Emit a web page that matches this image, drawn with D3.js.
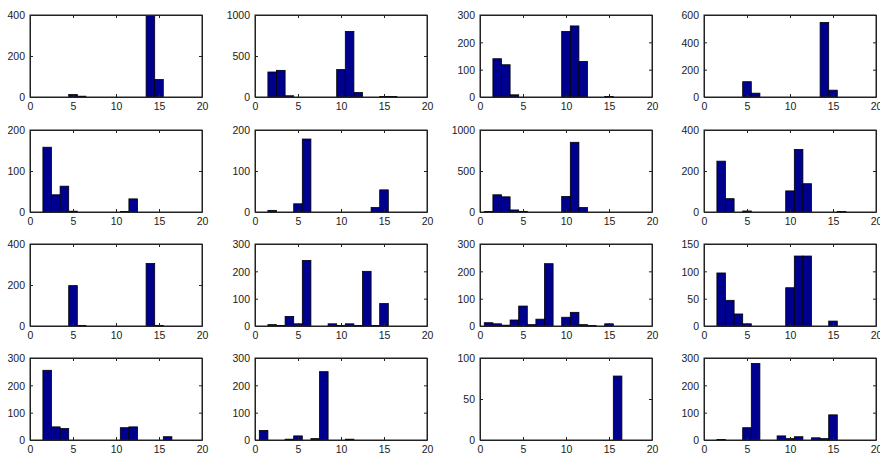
<!DOCTYPE html>
<html>
<head>
<meta charset="utf-8">
<script src="https://cdn.jsdelivr.net/npm/d3@7"></script>
<style>
  body { margin: 0; background: #fff; }
  svg { display: block; }
  .tick text { font-family: "Liberation Sans", Arial, sans-serif; font-size: 10.5px; fill: #1a1a1a; }
</style>
</head>
<body>
<div class="graph"></div>
<script>
// bin centres shared by every histogram
const bins = [1, 2, 3, 4, 5, 6, 7, 8, 9, 10, 11, 12, 13, 14, 15, 16];

// counts per bin, one array per panel (row by row)
const p11 = [0, 0, 0, 0, 12, 4, 0, 0, 0, 0, 0, 0, 0, 400, 85, 0];
const p12 = [0, 305, 325, 15, 0, 0, 0, 0, 0, 335, 800, 55, 0, 0, 5, 5];
const p13 = [0, 140, 118, 8, 0, 0, 0, 0, 0, 240, 260, 130, 0, 0, 2, 0];
const p14 = [0, 0, 0, 0, 112, 28, 0, 0, 0, 0, 0, 0, 0, 545, 50, 0];
const p21 = [0, 158, 42, 63, 2, 0, 0, 0, 0, 0, 1, 32, 0, 0, 0, 0];
const p22 = [0, 4, 0, 0, 20, 178, 0, 0, 0, 0, 0, 0, 0, 11, 54, 0];
const p23 = [5, 210, 185, 25, 8, 0, 0, 0, 0, 190, 850, 55, 0, 0, 0, 0];
const p24 = [0, 248, 65, 0, 5, 0, 0, 0, 0, 103, 305, 138, 0, 0, 0, 3];
const p31 = [0, 0, 0, 0, 197, 3, 0, 0, 0, 0, 0, 0, 0, 305, 3, 0];
const p32 = [0, 5, 2, 35, 8, 240, 0, 0, 8, 2, 8, 2, 200, 2, 82, 0];
const p33 = [12, 8, 3, 22, 73, 5, 25, 228, 0, 32, 50, 5, 2, 0, 8, 0];
const p34 = [0, 97, 47, 22, 4, 0, 0, 0, 0, 70, 128, 128, 0, 0, 9, 0];
const p41 = [0, 255, 48, 42, 0, 0, 0, 0, 0, 0, 45, 48, 0, 0, 0, 12];
const p42 = [35, 0, 0, 3, 15, 0, 5, 250, 0, 0, 3, 0, 0, 0, 0, 0];
const p43 = [0, 0, 0, 0, 0, 0, 0, 0, 0, 0, 0, 0, 0, 0, 0, 78];
const p44 = [0, 2, 0, 0, 45, 280, 0, 0, 15, 5, 12, 0, 8, 5, 92, 0];

// y tick values per panel
const yt11 = [0, 200, 400], yt12 = [0, 500, 1000], yt13 = [0, 100, 200, 300], yt14 = [0, 200, 400, 600];
const yt21 = [0, 100, 200], yt22 = [0, 100, 200], yt23 = [0, 500, 1000], yt24 = [0, 200, 400];
const yt31 = [0, 200, 400], yt32 = [0, 100, 200, 300], yt33 = [0, 100, 200, 300], yt34 = [0, 50, 100, 150];
const yt41 = [0, 100, 200, 300], yt42 = [0, 100, 200, 300], yt43 = [0, 50, 100], yt44 = [0, 100, 200, 300];

const xTicks = [0, 5, 10, 15, 20];

const panels = [
  [p11, yt11], [p12, yt12], [p13, yt13], [p14, yt14],
  [p21, yt21], [p22, yt22], [p23, yt23], [p24, yt24],
  [p31, yt31], [p32, yt32], [p33, yt33], [p34, yt34],
  [p41, yt41], [p42, yt42], [p43, yt43], [p44, yt44]
];

var colX = [30, 255, 480, 704],
    rowY = [15, 130, 244, 358],
    w = 172, h = 82;

var svg = d3.select(".graph")
  .append("svg")
    .attr("width", 880)
    .attr("height", 454);

panels.forEach(function(p, k) {
  var counts = p[0], yticks = p[1];
  var g = svg.append("g")
    .attr("transform", "translate(" + colX[k % 4] + "," + rowY[Math.floor(k / 4)] + ")");

  var x = d3.scaleLinear().domain([0, 20]).range([0, w]);
  var y = d3.scaleLinear().domain([0, yticks[yticks.length - 1]]).range([h, 0]);

  // clip so the tallest bars stop at the box
  var cid = "clip" + k;
  g.append("clipPath").attr("id", cid)
    .append("rect").attr("width", w).attr("height", h);

  g.append("g").attr("clip-path", "url(#" + cid + ")")
    .selectAll("rect")
    .data(bins.map(function(b, i) { return {b: b, c: counts[i]}; }).filter(function(d) { return d.c > 0; }))
    .enter().append("rect")
      .attr("x", function(d) { return x(d.b - 0.5); })
      .attr("width", x(1) - x(0))
      .attr("y", function(d) { return y(d.c); })
      .attr("height", function(d) { return h - y(d.c); })
      .attr("fill", "#00008f")
      .attr("stroke", "#000")
      .attr("stroke-width", 0.8);

  // axes with inward ticks, MATLAB style box
  g.append("g").attr("transform", "translate(0," + h + ")")
    .call(d3.axisBottom(x).tickValues(xTicks).tickSizeInner(-3).tickSizeOuter(0).tickPadding(6).tickFormat(d3.format("d")));
  var ay = g.append("g")
    .call(d3.axisLeft(y).tickValues(yticks).tickSizeInner(-3).tickSizeOuter(0).tickPadding(5).tickFormat(d3.format("d")));
  g.append("g")
    .call(d3.axisTop(x).tickValues(xTicks).tickSizeInner(-3).tickSizeOuter(0).tickFormat(""));
  g.append("g").attr("transform", "translate(" + w + ",0)")
    .call(d3.axisRight(y).tickValues(yticks).tickSizeInner(-3).tickSizeOuter(0).tickFormat(""));

  g.selectAll(".domain").attr("stroke", "#222");
  g.selectAll(".tick line").attr("stroke", "#222");
  ay.selectAll(".tick text").attr("dy", "0.35em");
  g.append("rect").attr("width", w).attr("height", h)
    .attr("fill", "none").attr("stroke", "#222").attr("stroke-width", 1);
});
</script>
</body>
</html>
